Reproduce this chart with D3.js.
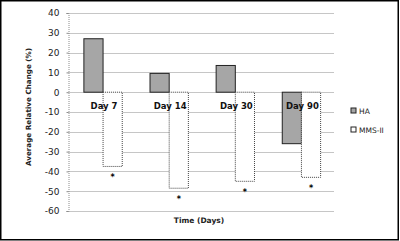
<!DOCTYPE html>
<html>
<head>
<meta charset="utf-8">
<script src="https://cdn.jsdelivr.net/npm/d3@7"></script>
<style>
  body { margin: 0; background: #fff; }
  text { font-family: "DejaVu Sans", Verdana, sans-serif; }
</style>
</head>
<body>
<svg id="chart" width="400" height="241"></svg>
<script>
const days = ["Day 7", "Day 14", "Day 30", "Day 90"];
const series = ["HA", "MMS-II"];
const haValues = [27, 9.5, 13.5, -26];
const mmsValues = [-37.5, -48.5, -45, -43];
const marks = ["*", "*", "*", "*"];
const yTicks = [40, 30, 20, 10, 0, -10, -20, -30, -40, -50, -60];

const svg = d3.select("#chart");
const colors = { "HA": "#a6a6a6", "MMS-II": "#ffffff" };

// outer frame
svg.append("rect")
  .attr("x", 0.75).attr("y", 0.75)
  .attr("width", 397.5).attr("height", 239)
  .attr("fill", "#fff")
  .attr("stroke", "#000")
  .attr("stroke-width", 1.5);

const plotLeft = 68.5;
const plotRight = 334;

const y = d3.scaleLinear().domain([-60, 40]).range([211, 13]);
const x = d3.scaleBand().domain(days).range([70, 334.5]);
const xs = d3.scaleBand().domain(series).range([0.21 * x.bandwidth(), 0.79 * x.bandwidth()]);

// gridlines
svg.append("g")
  .selectAll("line")
  .data(yTicks)
  .join("line")
  .attr("x1", plotLeft).attr("x2", plotRight)
  .attr("y1", d => Math.round(y(d)) + 0.5)
  .attr("y2", d => Math.round(y(d)) + 0.5)
  .attr("stroke", "#8c8c8c")
  .attr("stroke-width", 1.2)
  .attr("stroke-dasharray", "1,1");

// y axis
const yAxis = d3.axisLeft(y).tickValues(yTicks).tickSize(2).tickPadding(7)
  .tickFormat(d => d);
const ya = svg.append("g")
  .attr("transform", `translate(${plotLeft},0)`)
  .call(yAxis);
ya.select(".domain").attr("stroke", "#8c8c8c").attr("stroke-dasharray", "1,1");
ya.selectAll(".tick line").attr("stroke", "#8c8c8c");
ya.selectAll("text").attr("font-size", 9).attr("fill", "#222")
  .attr("font-family", "DejaVu Sans");

const rows = days.map((d, i) => ({ day: d, HA: haValues[i], "MMS-II": mmsValues[i], mark: marks[i] }));

// bars
const groups = svg.append("g")
  .selectAll("g")
  .data(rows)
  .join("g")
  .attr("transform", d => `translate(${x(d.day)},0)`);

groups.selectAll("rect")
  .data(d => series.map(s => ({ key: s, value: d[s] })))
  .join("rect")
  .attr("x", d => xs(d.key))
  .attr("width", xs.bandwidth())
  .attr("y", d => y(Math.max(0, d.value)))
  .attr("height", d => Math.abs(y(d.value) - y(0)))
  .attr("fill", d => colors[d.key])
  .attr("stroke", d => d.key === "HA" ? "#222" : "#444")
  .attr("stroke-width", 1)
  .attr("stroke-dasharray", d => d.key === "HA" ? null : "1,1");

// significance marks under MMS-II bars
groups.append("text")
  .attr("x", xs("MMS-II") + xs.bandwidth() / 2)
  .attr("y", d => y(d["MMS-II"]) + 14)
  .attr("text-anchor", "middle")
  .attr("font-size", 8)
  .attr("font-weight", "bold")
  .text(d => d.mark);

// category labels at the zero line
groups.append("text")
  .attr("x", x.bandwidth() / 2 + 1)
  .attr("y", y(0) + 17)
  .attr("text-anchor", "middle")
  .attr("font-size", 8.5)
  .attr("font-weight", "bold")
  .attr("fill", "#111")
  .text(d => d.day);

// axis titles
svg.append("text")
  .attr("transform", "translate(31,107) rotate(-90)")
  .attr("text-anchor", "middle")
  .attr("font-size", 7.2)
  .attr("font-weight", "bold")
  .attr("fill", "#222")
  .text("Average Relative Change (%)");

svg.append("text")
  .attr("x", 199).attr("y", 223)
  .attr("text-anchor", "middle")
  .attr("font-size", 7.5)
  .attr("font-weight", "bold")
  .attr("fill", "#222")
  .text("Time (Days)");

// legend
const legend = svg.append("g")
  .selectAll("g")
  .data(series)
  .join("g")
  .attr("transform", (d, i) => `translate(351,${108 + i * 19})`);

legend.append("rect")
  .attr("width", 5).attr("height", 5)
  .attr("fill", d => colors[d])
  .attr("stroke", "#222")
  .attr("stroke-width", 1);

legend.append("text")
  .attr("x", 8).attr("y", 5.5)
  .attr("font-size", 7.5)
  .attr("fill", "#222")
  .text(d => d);
</script>
</body>
</html>
